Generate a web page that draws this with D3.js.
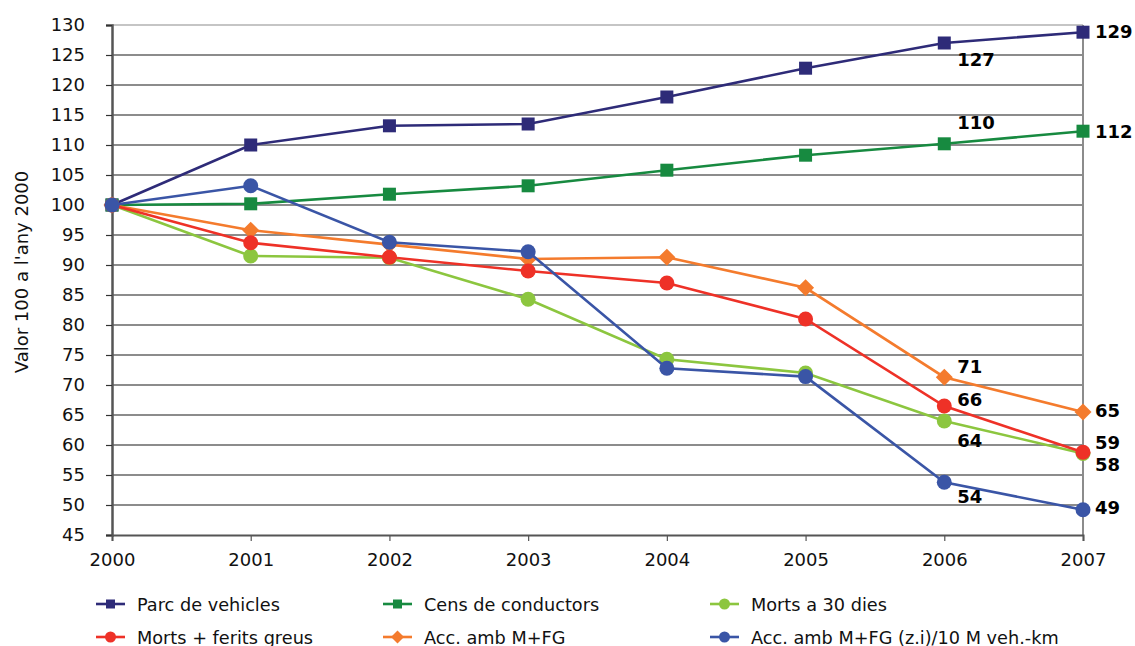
<!DOCTYPE html>
<html><head><meta charset="utf-8">
<script src="https://cdn.jsdelivr.net/npm/d3@7"></script>
<style>
html,body{margin:0;padding:0;background:#fff;}
text{font-family:"DejaVu Sans",Verdana,sans-serif;}
</style></head>
<body><svg id="c" width="1135" height="646"></svg>
<script>
const years = [2000,2001,2002,2003,2004,2005,2006,2007];
const yTicks = [45,50,55,60,65,70,75,80,85,90,95,100,105,110,115,120,125,130];
const parcVehicles   = [100,110,113.2,113.5,118.0,122.8,127.0,128.8];
const censConductors = [100,100.2,101.8,103.2,105.8,108.3,110.2,112.3];
const morts30        = [100,91.5,91.2,84.3,74.3,72.0,64.0,58.6];
const mortsFerits    = [100,93.7,91.3,89.0,87.0,81.0,66.5,58.8];
const accMFG         = [100,95.8,93.4,91.0,91.3,86.2,71.3,65.5];
const accVehKm       = [100,103.2,93.8,92.2,72.8,71.4,53.8,49.2];
const seriesNames = ["Parc de vehicles","Cens de conductors","Morts a 30 dies","Morts + ferits greus","Acc. amb M+FG","Acc. amb M+FG (z.i)/10 M veh.-km"];
const seriesColors = ["#2e2b78","#178a40","#8cc63f","#ee3127","#f47b2d","#3a55a6"];
const seriesShapes = ["square","square","circle","circle","diamond","circle"];
const seriesData = [parcVehicles,censConductors,morts30,mortsFerits,accMFG,accVehKm];
// data labels: series index, year index, text
const labelSeries = [0,0,1,1,4,4,3,3,2,2,5,5];
const labelYears  = [6,7,6,7,6,7,6,7,6,7,6,7];
const labelTexts  = ["127","129","110","112","71","65","66","59","64","58","54","49"];
// label placement offsets (layout only)
const labelDy = [23,6,-15,7,-4,5,0,-3,26,18,21,4];

const svg = d3.select("#c");
const x = d3.scaleLinear().domain([2000,2007]).range([112,1083]);
const y = d3.scaleLinear().domain([45,130]).range([535,25]);

// gridlines
svg.append("g").selectAll("line").data(yTicks.filter(d=>d>45)).join("line")
 .attr("x1",112).attr("x2",1083).attr("y1",d=>y(d)).attr("y2",d=>y(d))
 .attr("stroke",d=>d===130?"#8c8c8c":"#1a1a1a").attr("stroke-width",1.2);
// right border
svg.append("line").attr("x1",1083).attr("x2",1083).attr("y1",y(130)).attr("y2",y(45))
 .attr("stroke","#8c8c8c").attr("stroke-width",2);

// y axis
const ya = svg.append("g").attr("transform","translate(112,0)")
 .call(d3.axisLeft(y).tickValues(yTicks).tickSize(6).tickPadding(21));
ya.select(".domain").attr("stroke","#555").attr("stroke-width",2.5);
ya.selectAll(".tick line").attr("stroke","#333").attr("stroke-width",1.2);
ya.selectAll("text").attr("font-size",18).attr("fill","#111").attr("font-family","DejaVu Sans, Verdana, sans-serif");

// x axis
const xa = svg.append("g").attr("transform","translate(0,535)")
 .call(d3.axisBottom(x).tickValues(years).tickFormat(d3.format("d")).tickSize(6).tickPadding(12));
xa.select(".domain").attr("stroke","#555").attr("stroke-width",2);
xa.selectAll(".tick line").attr("stroke","#555").attr("stroke-width",1.2);
xa.selectAll("text").attr("font-size",18).attr("fill","#111").attr("font-family","DejaVu Sans, Verdana, sans-serif");

// y title
svg.append("text").attr("transform","translate(28,272) rotate(-90)").attr("text-anchor","middle")
 .attr("font-size",18).attr("fill","#111").text("Valor 100 a l'any 2000");

function marker(g, shape, color, cx, cy, s){
  if(shape==="square"){
    g.append("rect").attr("x",cx-s/2).attr("y",cy-s/2).attr("width",s).attr("height",s).attr("fill",color);
  } else if(shape==="circle"){
    g.append("circle").attr("cx",cx).attr("cy",cy).attr("r",s/2+1).attr("fill",color);
  } else {
    const r = s/2+2;
    g.append("path").attr("d",`M${cx},${cy-r}L${cx+r},${cy}L${cx},${cy+r}L${cx-r},${cy}Z`).attr("fill",color);
  }
}

const line = d3.line().x((d,i)=>x(years[i])).y(d=>y(d));
const order = [0,1,2,4,3,5];
order.forEach(si=>{
  const g = svg.append("g");
  g.append("path").attr("d",line(seriesData[si])).attr("fill","none")
   .attr("stroke",seriesColors[si]).attr("stroke-width",2.6);
  seriesData[si].forEach((v,i)=>marker(g,seriesShapes[si],seriesColors[si],x(years[i]),y(v),13));
});

// data labels
labelTexts.forEach((t,k)=>{
  const si = labelSeries[k], yi = labelYears[k];
  const px = x(years[yi]), py = y(seriesData[si][yi]);
  const dx = yi===7 ? 12 : 13;
  svg.append("text").attr("x",px+dx).attr("y",py+labelDy[k])
   .attr("font-size",18).attr("font-weight","bold").attr("fill","#000").text(t);
});

// legend
const legPos = [[96,604],[383,604],[710,604],[96,637],[383,637],[710,637]];
seriesNames.forEach((n,si)=>{
  const [lx,ly] = legPos[si];
  const g = svg.append("g");
  g.append("line").attr("x1",lx).attr("x2",lx+29).attr("y1",ly).attr("y2",ly)
   .attr("stroke",seriesColors[si]).attr("stroke-width",2.6);
  marker(g,seriesShapes[si],seriesColors[si],lx+14.5,ly,9);
  g.append("text").attr("x",lx+41).attr("y",ly+6.5).attr("font-size",17.7).attr("fill","#111").text(n);
});
</script></body></html>
